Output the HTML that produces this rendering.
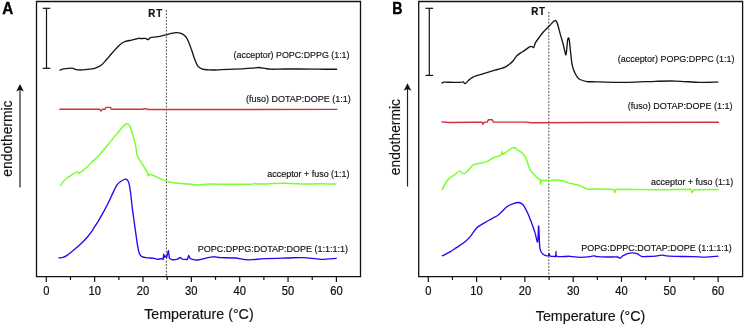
<!DOCTYPE html>
<html><head><meta charset="utf-8"><style>
html,body{margin:0;padding:0;background:#fff;width:745px;height:326px;overflow:hidden}
svg{display:block;will-change:transform}
</style></head><body>
<svg width="745" height="326" viewBox="0 0 745 326">
<rect width="745" height="326" fill="#fff"/>
<path d="M36.5,276.6 L36.5,1.5 L360.5,1.5 L360.5,276.6 Z" fill="none" stroke="#111" stroke-width="1.3"/>
<line x1="46.30" y1="276.6" x2="46.30" y2="281.90000000000003" stroke="#111" stroke-width="1.2"/>
<text x="46.30" y="295.0" text-anchor="middle" font-size="11.2" fill="#111" stroke="#111" stroke-width="0.2" transform="translate(0,295.0) scale(1,1.08) translate(0,-295.0)" font-family="Liberation Sans, sans-serif">0</text>
<line x1="70.47" y1="276.6" x2="70.47" y2="279.90000000000003" stroke="#111" stroke-width="1.2"/>
<line x1="94.65" y1="276.6" x2="94.65" y2="281.90000000000003" stroke="#111" stroke-width="1.2"/>
<text x="94.65" y="295.0" text-anchor="middle" font-size="11.2" fill="#111" stroke="#111" stroke-width="0.2" transform="translate(0,295.0) scale(1,1.08) translate(0,-295.0)" font-family="Liberation Sans, sans-serif">10</text>
<line x1="118.83" y1="276.6" x2="118.83" y2="279.90000000000003" stroke="#111" stroke-width="1.2"/>
<line x1="143.00" y1="276.6" x2="143.00" y2="281.90000000000003" stroke="#111" stroke-width="1.2"/>
<text x="143.00" y="295.0" text-anchor="middle" font-size="11.2" fill="#111" stroke="#111" stroke-width="0.2" transform="translate(0,295.0) scale(1,1.08) translate(0,-295.0)" font-family="Liberation Sans, sans-serif">20</text>
<line x1="167.18" y1="276.6" x2="167.18" y2="279.90000000000003" stroke="#111" stroke-width="1.2"/>
<line x1="191.35" y1="276.6" x2="191.35" y2="281.90000000000003" stroke="#111" stroke-width="1.2"/>
<text x="191.35" y="295.0" text-anchor="middle" font-size="11.2" fill="#111" stroke="#111" stroke-width="0.2" transform="translate(0,295.0) scale(1,1.08) translate(0,-295.0)" font-family="Liberation Sans, sans-serif">30</text>
<line x1="215.52" y1="276.6" x2="215.52" y2="279.90000000000003" stroke="#111" stroke-width="1.2"/>
<line x1="239.70" y1="276.6" x2="239.70" y2="281.90000000000003" stroke="#111" stroke-width="1.2"/>
<text x="239.70" y="295.0" text-anchor="middle" font-size="11.2" fill="#111" stroke="#111" stroke-width="0.2" transform="translate(0,295.0) scale(1,1.08) translate(0,-295.0)" font-family="Liberation Sans, sans-serif">40</text>
<line x1="263.88" y1="276.6" x2="263.88" y2="279.90000000000003" stroke="#111" stroke-width="1.2"/>
<line x1="288.05" y1="276.6" x2="288.05" y2="281.90000000000003" stroke="#111" stroke-width="1.2"/>
<text x="288.05" y="295.0" text-anchor="middle" font-size="11.2" fill="#111" stroke="#111" stroke-width="0.2" transform="translate(0,295.0) scale(1,1.08) translate(0,-295.0)" font-family="Liberation Sans, sans-serif">50</text>
<line x1="312.23" y1="276.6" x2="312.23" y2="279.90000000000003" stroke="#111" stroke-width="1.2"/>
<line x1="336.40" y1="276.6" x2="336.40" y2="281.90000000000003" stroke="#111" stroke-width="1.2"/>
<text x="336.40" y="295.0" text-anchor="middle" font-size="11.2" fill="#111" stroke="#111" stroke-width="0.2" transform="translate(0,295.0) scale(1,1.08) translate(0,-295.0)" font-family="Liberation Sans, sans-serif">60</text>
<line x1="166.4" y1="10" x2="166.4" y2="276.6" stroke="#333" stroke-width="0.9" stroke-dasharray="1.8,1.5"/>
<text transform="translate(148.2,17.0) scale(1,1.12)" font-size="9.8" font-weight="bold" letter-spacing="1.0" fill="#111" stroke="#111" stroke-width="0.2" font-family="Liberation Sans, sans-serif">RT</text>
<line x1="46.5" y1="8.3" x2="46.5" y2="68.3" stroke="#111" stroke-width="1.2"/>
<line x1="42.7" y1="8.3" x2="50.3" y2="8.3" stroke="#111" stroke-width="1.2"/>
<line x1="42.7" y1="68.3" x2="50.3" y2="68.3" stroke="#111" stroke-width="1.2"/>
<line x1="20.0" y1="89.0" x2="20.0" y2="187.5" stroke="#222" stroke-width="1.2"/>
<path d="M20.0,84.0 L23.8,91.6 L20.0,89.8 L16.2,91.6 Z" fill="#111"/>
<text transform="translate(12.0,176.7) rotate(-90)" font-size="13.85" fill="#111" stroke="#111" stroke-width="0.15" font-family="Liberation Sans, sans-serif">endothermic</text>
<text x="144.2" y="318.6" font-size="14.25" fill="#111" stroke="#111" stroke-width="0.15" font-family="Liberation Sans, sans-serif">Temperature (°C)</text>
<text transform="translate(2.3,13.7) scale(1,1.06)" font-size="15.3" font-weight="bold" fill="#000" stroke="#000" stroke-width="0.3" font-family="Liberation Sans, sans-serif">A</text>
<path d="M60.00,70.10 C60.62,69.90 62.30,69.20 63.70,68.90 C65.10,68.60 66.83,68.40 68.40,68.30 C69.97,68.20 71.98,68.12 73.10,68.30 C74.22,68.48 73.87,69.12 75.10,69.40 C76.33,69.68 78.48,70.02 80.50,70.00 C82.52,69.98 84.97,69.53 87.20,69.30 C89.43,69.07 92.00,69.03 93.90,68.60 C95.80,68.17 97.25,67.38 98.60,66.70 C99.95,66.02 100.97,65.35 102.00,64.50 C103.03,63.65 103.85,62.63 104.80,61.60 C105.75,60.57 106.62,59.57 107.70,58.30 C108.78,57.03 109.98,55.53 111.30,54.00 C112.62,52.47 114.07,50.73 115.60,49.10 C117.13,47.47 118.87,45.48 120.50,44.20 C122.13,42.92 123.53,42.08 125.40,41.40 C127.27,40.72 129.93,40.50 131.70,40.10 C133.47,39.70 134.77,39.33 136.00,39.00 C137.23,38.67 138.37,38.17 139.10,38.10 C139.83,38.03 139.40,38.55 140.40,38.60 C141.40,38.65 143.78,38.25 145.10,38.40 C146.42,38.55 147.40,39.63 148.30,39.50 C149.20,39.37 148.90,38.07 150.50,37.60 C152.10,37.13 155.32,37.17 157.90,36.70 C160.48,36.23 163.05,35.47 166.00,34.80 C168.95,34.13 173.10,32.93 175.60,32.70 C178.10,32.47 179.33,32.77 181.00,33.40 C182.67,34.03 184.33,35.08 185.60,36.50 C186.87,37.92 187.58,39.60 188.60,41.90 C189.62,44.20 190.67,47.37 191.70,50.30 C192.73,53.23 193.78,56.87 194.80,59.50 C195.82,62.13 196.53,64.50 197.80,66.10 C199.07,67.70 200.60,68.48 202.40,69.10 C204.20,69.72 206.50,69.65 208.60,69.80 C210.70,69.95 211.83,70.07 215.00,70.00 C218.17,69.93 223.00,69.60 227.60,69.40 C232.20,69.20 238.53,69.00 242.60,68.80 C246.67,68.60 249.33,68.42 252.00,68.20 C254.67,67.98 256.40,67.47 258.60,67.50 C260.80,67.53 263.17,68.12 265.20,68.40 C267.23,68.68 267.67,69.10 270.80,69.20 C273.93,69.30 279.30,69.03 284.00,69.00 C288.70,68.97 293.37,68.97 299.00,69.00 C304.63,69.03 311.53,69.17 317.80,69.20 C324.07,69.23 333.47,69.20 336.60,69.20" fill="none" stroke="#161616" stroke-width="1.35" stroke-linejoin="round" stroke-linecap="round"/>
<path d="M59.80,109.30 L100.00,109.30 L101.00,111.10 L102.50,109.30 L105.20,109.30 L106.00,107.40 L110.60,107.40 L111.40,109.30 L143.00,109.30 L144.00,108.60 L146.00,108.80 L148.00,109.50 L190.00,109.50 L336.80,109.40" fill="none" stroke="#d0313a" stroke-width="1.4" stroke-linejoin="round" stroke-linecap="round"/>
<path d="M60.40,185.40 C61.13,184.50 63.25,181.52 64.80,180.00 C66.35,178.48 67.65,177.65 69.70,176.30 C71.75,174.95 75.55,172.42 77.10,171.90 C78.65,171.38 77.72,173.68 79.00,173.20 C80.28,172.72 82.58,170.90 84.80,169.00 C87.02,167.10 89.97,164.07 92.30,161.80 C94.63,159.53 96.18,158.25 98.80,155.40 C101.42,152.55 105.48,147.70 108.00,144.70 C110.52,141.70 111.92,139.82 113.90,137.40 C115.88,134.98 118.28,132.10 119.90,130.20 C121.52,128.30 122.40,127.10 123.60,126.00 C124.80,124.90 126.08,123.60 127.10,123.60 C128.12,123.60 128.77,124.17 129.70,126.00 C130.63,127.83 131.67,131.12 132.70,134.60 C133.73,138.08 135.15,143.45 135.90,146.90 C136.65,150.35 136.22,152.57 137.20,155.30 C138.18,158.03 140.12,160.42 141.80,163.30 C143.48,166.18 146.23,170.52 147.30,172.60 C148.37,174.68 147.77,175.50 148.20,175.80 C148.63,176.10 148.85,174.37 149.90,174.40 C150.95,174.43 152.75,175.27 154.50,176.00 C156.25,176.73 158.40,177.92 160.40,178.80 C162.40,179.68 164.25,180.65 166.50,181.30 C168.75,181.95 171.03,182.30 173.90,182.70 C176.77,183.10 181.02,183.47 183.70,183.70 C186.38,183.93 187.62,183.90 190.00,184.10 C192.38,184.30 194.65,184.90 198.00,184.90 C201.35,184.90 204.73,184.20 210.10,184.10 C215.47,184.00 223.48,184.27 230.20,184.30 C236.92,184.33 246.37,184.43 250.40,184.30 C254.43,184.17 252.73,183.53 254.40,183.50 C256.07,183.47 255.37,184.13 260.40,184.10 C265.43,184.07 277.22,183.30 284.60,183.30 C291.98,183.30 298.67,184.03 304.70,184.10 C310.73,184.17 315.60,183.70 320.80,183.70 C326.00,183.70 333.38,184.03 335.90,184.10" fill="none" stroke="#7cff2c" stroke-width="1.5" stroke-linejoin="round" stroke-linecap="round"/>
<path d="M59.10,258.00 C59.75,257.90 61.62,257.88 63.00,257.40 C64.38,256.92 65.57,256.37 67.40,255.10 C69.23,253.83 71.70,251.73 74.00,249.80 C76.30,247.87 79.03,245.55 81.20,243.50 C83.37,241.45 85.15,239.65 87.00,237.50 C88.85,235.35 91.25,232.05 92.30,230.60 C93.35,229.15 92.35,230.30 93.30,228.80 C94.25,227.30 96.33,224.35 98.00,221.60 C99.67,218.85 101.72,215.15 103.30,212.30 C104.88,209.45 106.12,207.27 107.50,204.50 C108.88,201.73 110.43,198.18 111.60,195.70 C112.77,193.22 113.57,191.43 114.50,189.60 C115.43,187.77 116.12,186.10 117.20,184.70 C118.28,183.30 119.63,182.13 121.00,181.20 C122.37,180.27 124.30,179.25 125.40,179.10 C126.50,178.95 127.00,179.60 127.60,180.30 C128.20,181.00 128.52,181.35 129.00,183.30 C129.48,185.25 129.95,187.87 130.50,192.00 C131.05,196.13 131.63,202.77 132.30,208.10 C132.97,213.43 133.80,218.93 134.50,224.00 C135.20,229.07 135.92,234.50 136.50,238.50 C137.08,242.50 137.48,245.42 138.00,248.00 C138.52,250.58 138.93,252.57 139.60,254.00 C140.27,255.43 140.92,255.98 142.00,256.60 C143.08,257.22 144.08,257.42 146.10,257.70 C148.12,257.98 152.23,258.03 154.10,258.30 C155.97,258.57 156.10,259.23 157.30,259.30 C158.50,259.37 160.32,258.68 161.30,258.70 L163.20,259.40 L163.60,254.30 L164.60,257.40 L165.60,256.00 L166.60,257.50 L168.40,250.60 L169.40,258.20 L171.80,259.70 C173.15,259.85 176.08,259.47 177.50,259.10 C178.92,258.73 179.50,257.50 180.30,257.50 C181.10,257.50 181.13,258.77 182.30,259.10 L187.30,259.50 L188.70,255.50 L190.30,258.60 L194.40,259.80 C195.85,260.00 195.98,260.30 199.00,259.80 C202.02,259.30 208.92,257.15 212.50,256.80 C216.08,256.45 216.75,257.50 220.50,257.70 C224.25,257.90 230.37,257.65 235.00,258.00 C239.63,258.35 243.38,259.68 248.30,259.80 C253.22,259.92 258.10,259.00 264.50,258.70 C270.90,258.40 280.28,258.18 286.70,258.00 C293.12,257.82 297.33,257.38 303.00,257.60 C308.67,257.82 315.17,259.18 320.70,259.30 C326.23,259.42 333.62,258.47 336.20,258.30" fill="none" stroke="#2408f2" stroke-width="1.35" stroke-linejoin="round" stroke-linecap="round"/>
<text x="349.5" y="58.3" text-anchor="end" font-size="8.9" fill="#111" stroke="#111" stroke-width="0.15" font-family="Liberation Sans, sans-serif">(acceptor) POPC:DPPG (1:1)</text>
<text x="350.8" y="101.8" text-anchor="end" font-size="9.0" fill="#111" stroke="#111" stroke-width="0.15" font-family="Liberation Sans, sans-serif">(fuso) DOTAP:DOPE (1:1)</text>
<text x="349.5" y="177" text-anchor="end" font-size="8.95" fill="#111" stroke="#111" stroke-width="0.15" font-family="Liberation Sans, sans-serif">acceptor + fuso (1:1)</text>
<text x="348" y="252.1" text-anchor="end" font-size="9.0" fill="#111" stroke="#111" stroke-width="0.15" font-family="Liberation Sans, sans-serif">POPC:DPPG:DOTAP:DOPE (1:1:1:1)</text>
<path d="M418.7,276.6 L418.7,1.5 L742.6,1.5 L742.6,276.6 Z" fill="none" stroke="#111" stroke-width="1.3"/>
<line x1="428.30" y1="276.6" x2="428.30" y2="281.90000000000003" stroke="#111" stroke-width="1.2"/>
<text x="428.30" y="295.0" text-anchor="middle" font-size="11.2" fill="#111" stroke="#111" stroke-width="0.2" transform="translate(0,295.0) scale(1,1.08) translate(0,-295.0)" font-family="Liberation Sans, sans-serif">0</text>
<line x1="452.45" y1="276.6" x2="452.45" y2="279.90000000000003" stroke="#111" stroke-width="1.2"/>
<line x1="476.60" y1="276.6" x2="476.60" y2="281.90000000000003" stroke="#111" stroke-width="1.2"/>
<text x="476.60" y="295.0" text-anchor="middle" font-size="11.2" fill="#111" stroke="#111" stroke-width="0.2" transform="translate(0,295.0) scale(1,1.08) translate(0,-295.0)" font-family="Liberation Sans, sans-serif">10</text>
<line x1="500.75" y1="276.6" x2="500.75" y2="279.90000000000003" stroke="#111" stroke-width="1.2"/>
<line x1="524.90" y1="276.6" x2="524.90" y2="281.90000000000003" stroke="#111" stroke-width="1.2"/>
<text x="524.90" y="295.0" text-anchor="middle" font-size="11.2" fill="#111" stroke="#111" stroke-width="0.2" transform="translate(0,295.0) scale(1,1.08) translate(0,-295.0)" font-family="Liberation Sans, sans-serif">20</text>
<line x1="549.05" y1="276.6" x2="549.05" y2="279.90000000000003" stroke="#111" stroke-width="1.2"/>
<line x1="573.20" y1="276.6" x2="573.20" y2="281.90000000000003" stroke="#111" stroke-width="1.2"/>
<text x="573.20" y="295.0" text-anchor="middle" font-size="11.2" fill="#111" stroke="#111" stroke-width="0.2" transform="translate(0,295.0) scale(1,1.08) translate(0,-295.0)" font-family="Liberation Sans, sans-serif">30</text>
<line x1="597.35" y1="276.6" x2="597.35" y2="279.90000000000003" stroke="#111" stroke-width="1.2"/>
<line x1="621.50" y1="276.6" x2="621.50" y2="281.90000000000003" stroke="#111" stroke-width="1.2"/>
<text x="621.50" y="295.0" text-anchor="middle" font-size="11.2" fill="#111" stroke="#111" stroke-width="0.2" transform="translate(0,295.0) scale(1,1.08) translate(0,-295.0)" font-family="Liberation Sans, sans-serif">40</text>
<line x1="645.65" y1="276.6" x2="645.65" y2="279.90000000000003" stroke="#111" stroke-width="1.2"/>
<line x1="669.80" y1="276.6" x2="669.80" y2="281.90000000000003" stroke="#111" stroke-width="1.2"/>
<text x="669.80" y="295.0" text-anchor="middle" font-size="11.2" fill="#111" stroke="#111" stroke-width="0.2" transform="translate(0,295.0) scale(1,1.08) translate(0,-295.0)" font-family="Liberation Sans, sans-serif">50</text>
<line x1="693.95" y1="276.6" x2="693.95" y2="279.90000000000003" stroke="#111" stroke-width="1.2"/>
<line x1="718.10" y1="276.6" x2="718.10" y2="281.90000000000003" stroke="#111" stroke-width="1.2"/>
<text x="718.10" y="295.0" text-anchor="middle" font-size="11.2" fill="#111" stroke="#111" stroke-width="0.2" transform="translate(0,295.0) scale(1,1.08) translate(0,-295.0)" font-family="Liberation Sans, sans-serif">60</text>
<line x1="548.8" y1="11.9" x2="548.8" y2="276.6" stroke="#333" stroke-width="0.9" stroke-dasharray="1.8,1.5"/>
<text transform="translate(531.3,14.8) scale(1,1.12)" font-size="9.8" font-weight="bold" letter-spacing="0.7" fill="#111" stroke="#111" stroke-width="0.2" font-family="Liberation Sans, sans-serif">RT</text>
<line x1="429.3" y1="8.3" x2="429.3" y2="75.4" stroke="#111" stroke-width="1.2"/>
<line x1="425.5" y1="8.3" x2="433.1" y2="8.3" stroke="#111" stroke-width="1.2"/>
<line x1="425.5" y1="75.4" x2="433.1" y2="75.4" stroke="#111" stroke-width="1.2"/>
<line x1="407.5" y1="88.2" x2="407.5" y2="186.5" stroke="#222" stroke-width="1.2"/>
<path d="M407.5,83.2 L411.3,90.8 L407.5,89.0 L403.7,90.8 Z" fill="#111"/>
<text transform="translate(400.2,175.2) rotate(-90)" font-size="13.85" fill="#111" stroke="#111" stroke-width="0.15" font-family="Liberation Sans, sans-serif">endothermic</text>
<text x="535.8" y="320.8" font-size="14.25" fill="#111" stroke="#111" stroke-width="0.15" font-family="Liberation Sans, sans-serif">Temperature (°C)</text>
<text transform="translate(392.3,13.6) scale(1,1.16)" font-size="14.2" font-weight="bold" fill="#000" stroke="#000" stroke-width="0.3" font-family="Liberation Sans, sans-serif">B</text>
<path d="M442.10,83.00 C442.48,82.85 442.52,82.20 444.40,82.10 C446.28,82.00 450.63,82.35 453.40,82.40 C456.17,82.45 459.35,82.48 461.00,82.40 C462.65,82.32 462.62,81.70 463.30,81.90 C463.98,82.10 464.12,83.95 465.10,83.60 C466.08,83.25 467.97,80.85 469.20,79.80 C470.43,78.75 471.27,78.00 472.50,77.30 C473.73,76.60 474.85,76.18 476.60,75.60 C478.35,75.02 479.93,74.72 483.00,73.80 C486.07,72.88 492.17,70.93 495.00,70.10 C497.83,69.27 498.32,69.28 500.00,68.80 C501.68,68.32 503.48,67.98 505.10,67.20 C506.72,66.42 508.32,65.22 509.70,64.10 C511.08,62.98 512.17,61.93 513.40,60.50 C514.63,59.07 515.57,56.95 517.10,55.50 C518.63,54.05 520.60,53.18 522.60,51.80 C524.60,50.42 527.62,48.10 529.10,47.20 C530.58,46.30 530.73,46.37 531.50,46.40 C532.27,46.43 533.03,48.03 533.70,47.40 C534.37,46.77 534.53,44.33 535.50,42.60 C536.47,40.87 538.27,38.68 539.50,37.00 C540.73,35.32 541.27,34.33 542.90,32.50 C544.53,30.67 547.40,27.93 549.30,26.00 C551.20,24.07 553.03,21.50 554.30,20.90 C555.57,20.30 555.88,20.12 556.90,22.40 C557.92,24.68 559.32,30.83 560.40,34.60 C561.48,38.37 562.52,41.67 563.40,45.00 C564.28,48.33 565.17,53.65 565.70,54.60 C566.23,55.55 566.28,53.13 566.60,50.70 C566.92,48.27 567.28,42.18 567.60,40.00 C567.92,37.82 568.22,37.60 568.50,37.60 C568.78,37.60 569.00,38.00 569.30,40.00 C569.60,42.00 569.87,45.70 570.30,49.60 C570.73,53.50 571.37,60.08 571.90,63.40 C572.43,66.72 572.93,67.77 573.50,69.50 C574.07,71.23 574.63,72.50 575.30,73.80 C575.97,75.10 576.72,76.35 577.50,77.30 C578.28,78.25 578.43,78.78 580.00,79.50 C581.57,80.22 584.38,81.22 586.90,81.60 C589.42,81.98 590.38,81.68 595.10,81.80 C599.82,81.92 608.48,82.25 615.20,82.30 C621.92,82.35 628.68,82.27 635.40,82.10 C642.12,81.93 648.80,81.47 655.50,81.30 C662.20,81.13 668.23,80.93 675.60,81.10 C682.97,81.27 692.65,82.13 699.70,82.30 C706.75,82.47 714.87,82.13 717.90,82.10" fill="none" stroke="#161616" stroke-width="1.35" stroke-linejoin="round" stroke-linecap="round"/>
<path d="M442.00,121.90 L449.10,122.50 L475.20,122.30 L482.20,122.30 L482.90,124.30 L484.30,122.10 L487.30,122.10 L488.30,119.70 L492.30,119.70 L493.30,122.10 L525.50,122.10 L531.60,122.80 L585.00,122.50 L718.50,122.30" fill="none" stroke="#d0313a" stroke-width="1.4" stroke-linejoin="round" stroke-linecap="round"/>
<path d="M442.20,189.50 C442.77,188.42 444.33,184.93 445.60,183.00 C446.87,181.07 448.25,179.30 449.80,177.90 C451.35,176.50 453.27,175.77 454.90,174.60 C456.53,173.43 458.25,171.05 459.60,170.90 C460.95,170.75 461.82,173.52 463.00,173.70 C464.18,173.88 465.10,173.40 466.70,172.00 C468.30,170.60 470.63,166.70 472.60,165.30 C474.57,163.90 476.12,164.22 478.50,163.60 C480.88,162.98 484.38,162.58 486.90,161.60 C489.42,160.62 491.48,158.63 493.60,157.70 C495.72,156.77 498.28,156.53 499.60,156.00 L501.50,154.50 L502.10,151.60 L502.90,154.60 L507.70,151.00 C509.52,149.80 512.02,147.50 513.80,147.40 C515.58,147.30 516.87,149.33 518.40,150.40 C519.93,151.47 521.72,152.47 523.00,153.80 C524.28,155.13 525.20,156.48 526.10,158.40 C527.00,160.32 527.63,163.25 528.40,165.30 C529.17,167.35 529.55,168.92 530.70,170.70 C531.85,172.48 533.85,174.55 535.30,176.00 C536.75,177.45 538.58,178.77 539.40,179.40 L540.20,179.80 L540.60,184.40 L541.60,180.20 L549.10,180.50 C551.37,180.45 552.95,179.85 555.20,179.90 C557.45,179.95 560.25,180.27 562.60,180.80 C564.95,181.33 566.62,182.37 569.30,183.10 C571.98,183.83 575.68,184.23 578.70,185.20 C581.72,186.17 584.05,188.28 587.40,188.90 C590.75,189.52 594.43,188.82 598.80,188.90 L613.60,189.40 L614.70,192.40 L615.80,189.20 L634.80,189.50 C642.88,189.60 654.97,189.85 664.30,189.80 L690.80,189.20 L692.20,192.70 L693.80,189.70 L718.20,189.50" fill="none" stroke="#7cff2c" stroke-width="1.5" stroke-linejoin="round" stroke-linecap="round"/>
<path d="M442.50,255.70 C443.75,255.07 447.67,253.25 450.00,251.90 C452.33,250.55 454.00,249.28 456.50,247.60 C459.00,245.92 462.68,243.67 465.00,241.80 C467.32,239.93 468.43,238.73 470.40,236.40 C472.37,234.07 474.47,230.05 476.80,227.80 C479.13,225.55 481.88,224.43 484.40,222.90 C486.92,221.37 489.58,219.92 491.90,218.60 C494.22,217.28 495.80,216.97 498.30,215.00 C500.80,213.03 504.40,208.70 506.90,206.80 C509.40,204.90 511.33,204.32 513.30,203.60 C515.27,202.88 517.08,202.32 518.70,202.50 C520.32,202.68 521.57,203.08 523.00,204.70 C524.43,206.32 525.87,209.17 527.30,212.20 C528.73,215.23 530.32,219.50 531.60,222.90 C532.88,226.30 534.00,229.43 535.00,232.60 C536.00,235.77 537.00,243.00 537.60,241.90 C538.20,240.80 538.33,227.00 538.60,226.00 C538.87,225.00 538.97,232.08 539.20,235.90 C539.43,239.72 539.37,245.83 540.00,248.90 C540.63,251.97 541.67,253.13 543.00,254.30 C544.33,255.47 546.98,256.02 548.00,255.90 C549.02,255.78 548.72,253.57 549.10,253.60 C549.48,253.63 549.43,255.63 550.30,256.10 C551.17,256.57 553.42,256.35 554.30,256.40 C555.18,256.45 555.30,257.22 555.60,256.40 C555.90,255.58 555.85,251.50 556.10,251.50 C556.35,251.50 554.80,255.60 557.10,256.40 C559.40,257.20 566.10,256.15 569.90,256.30 C573.70,256.45 576.55,257.23 579.90,257.30 C583.25,257.37 587.68,256.93 590.00,256.70 C592.32,256.47 592.55,255.90 593.80,255.90 C595.05,255.90 595.00,256.52 597.50,256.70 C600.00,256.88 605.50,256.95 608.80,257.00 C612.10,257.05 615.42,256.80 617.30,257.00 C619.18,257.20 619.17,258.40 620.10,258.20 C621.03,258.00 621.65,256.57 622.90,255.80 C624.15,255.03 626.03,254.10 627.60,253.60 C629.17,253.10 630.73,252.80 632.30,252.80 C633.87,252.80 635.43,253.00 637.00,253.60 C638.57,254.20 640.13,255.92 641.70,256.40 C643.27,256.88 644.05,256.55 646.40,256.50 C648.75,256.45 653.27,256.33 655.80,256.10 C658.33,255.87 659.38,255.08 661.60,255.10 C663.82,255.12 663.93,255.95 669.10,256.20 C674.27,256.45 686.65,256.45 692.60,256.60 C698.55,256.75 700.57,257.18 704.80,257.10 C709.03,257.02 715.80,256.27 718.00,256.10" fill="none" stroke="#2408f2" stroke-width="1.35" stroke-linejoin="round" stroke-linecap="round"/>
<text x="734.5" y="61.8" text-anchor="end" font-size="8.95" fill="#111" stroke="#111" stroke-width="0.15" font-family="Liberation Sans, sans-serif">(acceptor) POPG:DPPC (1:1)</text>
<text x="732.5" y="109" text-anchor="end" font-size="9.0" fill="#111" stroke="#111" stroke-width="0.15" font-family="Liberation Sans, sans-serif">(fuso) DOTAP:DOPE (1:1)</text>
<text x="733.3" y="184.7" text-anchor="end" font-size="8.95" fill="#111" stroke="#111" stroke-width="0.15" font-family="Liberation Sans, sans-serif">acceptor + fuso (1:1)</text>
<text x="731.7" y="251.4" text-anchor="end" font-size="9.0" fill="#111" stroke="#111" stroke-width="0.15" font-family="Liberation Sans, sans-serif">POPG:DPPC:DOTAP:DOPE (1:1:1:1)</text>
</svg>
</body></html>
